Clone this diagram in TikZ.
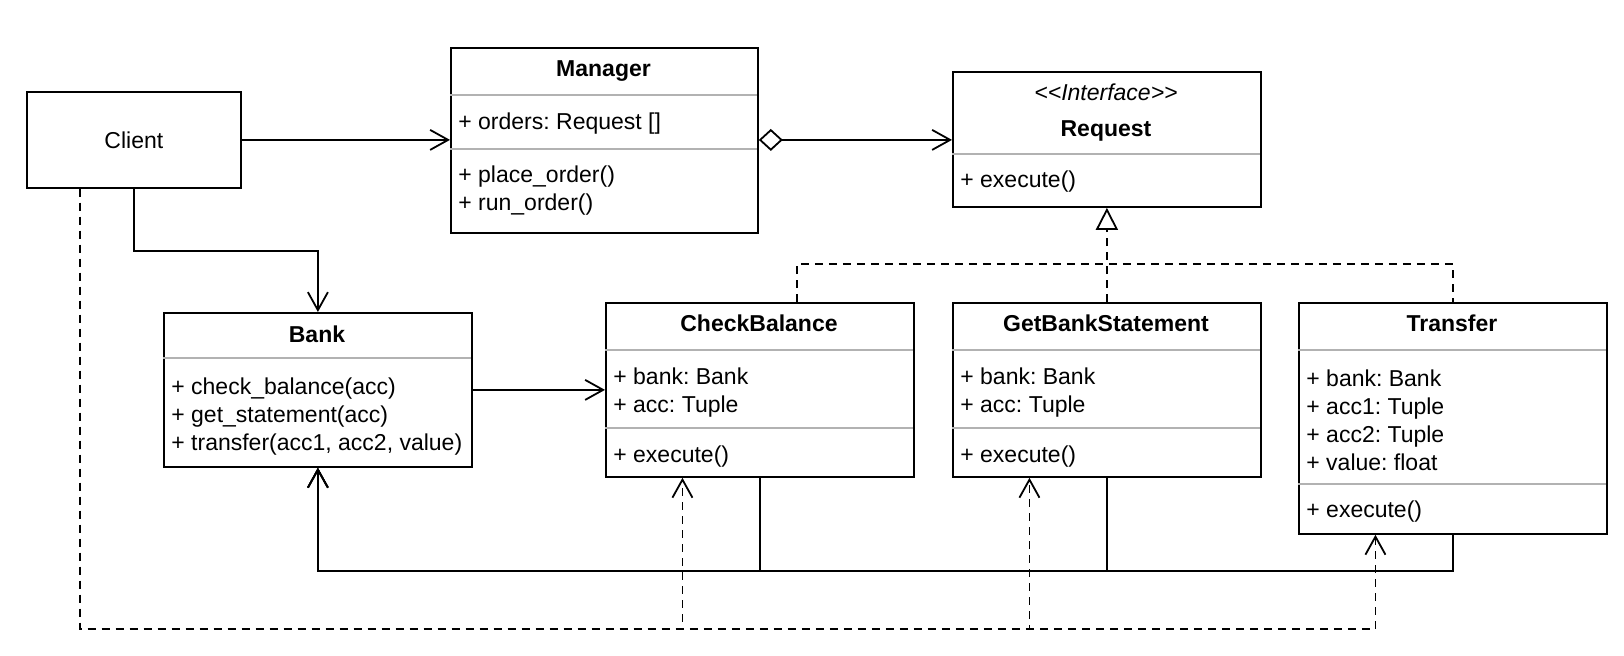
\documentclass[tikz,border=0pt]{standalone}
\usepackage{fontspec}
\setmainfont{Liberation Sans}
\usetikzlibrary{arrows.meta,positioning,calc}
\frenchspacing

\begin{document}
\begin{tikzpicture}[
  x=0.5pt, y=-0.5pt,
  font=\fontsize{11.5pt}{14pt}\selectfont,
  cls/.style={draw, line width=0.9pt, anchor=north west, minimum width=154pt, inner sep=0pt},
  ttl/.style={font=\fontsize{11.5pt}{14pt}\selectfont\bfseries},
  mbr/.style={anchor=west, align=left, inner sep=0pt},
  sep/.style={draw=black!30, line width=0.8pt},
  arr/.style={-{Straight Barb[length=9pt,width=10pt]}, line width=0.9pt},
  agg/.style={{Diamond[open,length=12pt,width=11pt]}-{Straight Barb[length=9pt,width=10pt]}, line width=0.9pt},
  dep/.style={arr, dash pattern=on 4pt off 3pt},
  realz/.style={line width=0.9pt, dash pattern=on 4pt off 3pt},
]
\useasboundingbox (0,0) rectangle (1624,655);

% Client and Manager
\node[cls, minimum width=107pt, minimum height=48pt] (client) at (26,91) {Client};

\node[cls, minimum width=153.5pt, minimum height=92.5pt] (manager) at (450,47) {};
\node[ttl] (managerT) at (603.5,71) {Manager};
\draw[sep] (450,95) -- (757,95);
\node[mbr] (managerA) at (458,124) {+ orders: Request []};
\draw[sep] (450,149) -- (757,149);
\node[mbr] (managerM) at (458,191) {+ place\_order()\\+ run\_order()};

% Interface
\node[cls, minimum height=67.5pt] (request) at (952,71) {};
\node (requestS) at (1106,92) {\itshape <\kern0pt<Interface>\kern0pt>};
\node[ttl] (requestT) at (1106,131) {Request};
\draw[sep] (952,154) -- (1260,154);
\node[mbr] (requestM) at (960,182) {+ execute()};

% Bank
\node[cls, minimum height=77pt] (bank) at (163,312) {};
\node[ttl] (bankT) at (317,334) {Bank};
\draw[sep] (163,358) -- (471,358);
\node[mbr] (bankM) at (171,417) {+ check\_balance(acc)\\+ get\_statement(acc)\\+ transfer(acc1, acc2, value)};

% Concrete requests
\node[cls, minimum height=87pt] (checkB) at (605,302) {};
\node[ttl] (checkBT) at (759,323) {CheckBalance};
\draw[sep] (605,350) -- (913,350);
\node[mbr] (checkBA) at (613,393) {+ bank: Bank\\+ acc: Tuple};
\draw[sep] (605,428) -- (913,428);
\node[mbr] (checkBM) at (613,457) {+ execute()};

\node[cls, minimum height=87pt] (getBS) at (952,302) {};
\node[ttl] (getBST) at (1106,323) {GetBankStatement};
\draw[sep] (952,350) -- (1260,350);
\node[mbr] (getBSA) at (960,393) {+ bank: Bank\\+ acc: Tuple};
\draw[sep] (952,428) -- (1260,428);
\node[mbr] (getBSM) at (960,457) {+ execute()};

\node[cls, minimum height=115.5pt] (transfer) at (1298,302) {};
\node[ttl] (transferT) at (1452,323) {Transfer};
\draw[sep] (1298,350) -- (1606,350);
\node[mbr] (transferA) at (1306,420) {+ bank: Bank\\+ acc1: Tuple\\+ acc2: Tuple\\+ value: float};
\draw[sep] (1298,484) -- (1606,484);
\node[mbr] (transferM) at (1306,512) {+ execute()};

% Associations
\draw[arr] (client.east) -- (client.east -| manager.west);
\draw[agg] (manager.east |- client.east) -- (request.west |- client.east);
\draw[arr] (client.south) -- ++(0,62) -| (bank.north);
\draw[arr] (bank.east) -- (bank.east -| checkB.west);

% Realization
\coordinate (realY) at (0,264);
\draw[realz, -{Triangle[open,length=11pt,width=11pt]}] (getBS.north) -- (request.south);
\draw[realz] ([xshift=18.5pt]checkB.north) |- (realY -| transfer.north) -- (transfer.north);

% Requests use the bank
\coordinate (busY) at (0,571);
\foreach \c in {checkB, getBS, transfer}
  \draw[arr] (\c.south) -- (\c.south |- busY) -| (bank.south);

% Client creates requests
\coordinate (depY) at (0,629);
\coordinate (clientD) at ($(client.south west)!0.25!(client.south east)$);
\foreach \c in {checkB, getBS, transfer} {
  \coordinate (\c D) at ($(\c.south west)!0.25!(\c.south east)$);
  \draw[dep] (clientD) -- (clientD |- depY) -| (\c D);
}

\end{tikzpicture}
\end{document}
